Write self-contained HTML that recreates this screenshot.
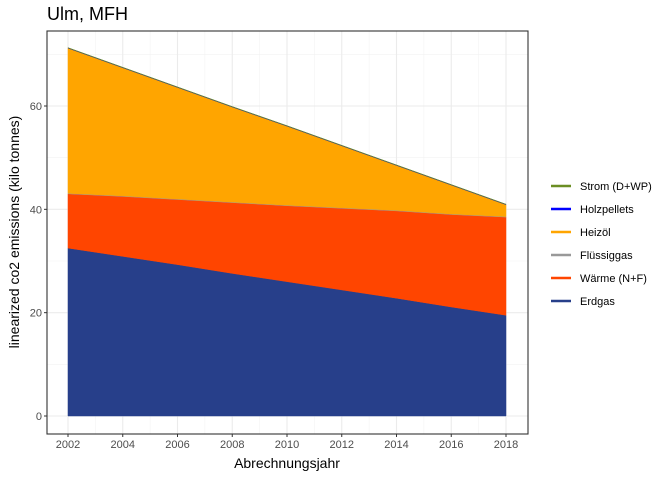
<!DOCTYPE html>
<html><head><meta charset="utf-8"><style>
body{margin:0;background:#fff;font-family:"Liberation Sans",sans-serif}
</style></head><body>
<svg id="c" width="672" height="480" xmlns="http://www.w3.org/2000/svg" font-family="Liberation Sans, sans-serif"></svg>
<script>
const years=[2002,2004,2006,2008,2010,2012,2014,2016,2018];
const erdgas=[32.5,30.9,29.3,27.6,26.0,24.4,22.8,21.1,19.5];
const waerme=[10.5,11.6,12.6,13.7,14.7,15.8,16.9,17.9,19.0];
const fluessiggas=[0.1,0.1,0.1,0.1,0.1,0.1,0.1,0.1,0.1];
const heizoel=[28.1,24.8,21.6,18.4,15.3,12.0,8.7,5.6,2.3];
const holzpellets=[0.05,0.05,0.05,0.05,0.05,0.05,0.05,0.05,0.05];
const strom=[0.05,0.05,0.05,0.05,0.05,0.05,0.05,0.05,0.05];
const xTicks=[2002,2004,2006,2008,2010,2012,2014,2016,2018];
const yTicks=[0,20,40,60];
const seriesNames=["Erdgas","Wärme (N+F)","Flüssiggas","Heizöl","Holzpellets","Strom (D+WP)"];
const seriesColors=["#273f8a","#ff4500","#999999","#ffa500","#0000ff","#6b8e23"];
const seriesData=[erdgas,waerme,fluessiggas,heizoel,holzpellets,strom];

const svg=document.getElementById('c');
const NS="http://www.w3.org/2000/svg";
const L=47,R=528,T=31,B=434;
const x=v=>68+(v-2002)*(506-68)/16;
const y=v=>416-v*(416-106)/60;
function mk(tag,attrs,parent){const e=document.createElementNS(NS,tag);for(const k in attrs)e.setAttribute(k,attrs[k]);(parent||svg).appendChild(e);return e;}

const grid=mk('g',{});


for(let v=10;v<=70;v+=20)mk('line',{x1:L,x2:R,y1:y(v),y2:y(v),stroke:'#f2f2f2','stroke-width':0.6},grid);
for(let yr=2003;yr<=2017;yr+=2)mk('line',{x1:x(yr),x2:x(yr),y1:T,y2:B,stroke:'#f2f2f2','stroke-width':0.6},grid);
yTicks.forEach(v=>mk('line',{x1:L,x2:R,y1:y(v),y2:y(v),stroke:'#ebebeb','stroke-width':1.1},grid));
xTicks.forEach(v=>mk('line',{x1:x(v),x2:x(v),y1:T,y2:B,stroke:'#ebebeb','stroke-width':1.1},grid));

let base=years.map(()=>0);
seriesData.forEach((d,i)=>{
  const top=base.map((b,j)=>b+d[j]);
  let pts=years.map((yr,j)=>x(yr)+','+y(top[j]));
  pts=pts.concat(years.slice().reverse().map((yr,j)=>x(yr)+','+y(base[years.length-1-j])));
  const p=mk('polygon',{points:pts.join(' '),fill:seriesColors[i],stroke:seriesColors[i],'stroke-width':0.5});
  
  
  base=top;
});

mk('rect',{x:L,y:T,width:R-L,height:B-T,fill:'none',stroke:'#333','stroke-width':1.1});

xTicks.forEach(v=>{
  mk('line',{x1:x(v),x2:x(v),y1:B,y2:B+3,stroke:'#333'});
  const t=mk('text',{x:x(v),y:B+14,'font-size':11,fill:'#4d4d4d','text-anchor':'middle'});
  t.textContent=v;
  
  
});
yTicks.forEach(v=>{
  mk('line',{x1:L-3,x2:L,y1:y(v),y2:y(v),stroke:'#333'});
  const t=mk('text',{x:L-5,y:y(v)+4,'font-size':11,fill:'#4d4d4d','text-anchor':'end'});
  t.textContent=v;
  
  
});

let t=mk('text',{x:287,y:468,'font-size':14,'text-anchor':'middle'});t.textContent='Abrechnungsjahr';


t=mk('text',{x:0,y:0,'font-size':14,'text-anchor':'middle',transform:'translate(19,232) rotate(-90)'});t.textContent='linearized co2 emissions (kilo tonnes)';


t=mk('text',{x:47,y:20,'font-size':18});t.textContent='Ulm, MFH';



const legendOrder=[5,4,3,2,1,0];
legendOrder.forEach((si,k)=>{
  const ly=186+k*23;
  const g=mk('g',{});
  
  
  mk('line',{x1:551,x2:571,y1:ly,y2:ly,stroke:seriesColors[si],'stroke-width':2.5},g);
  const tt=mk('text',{x:580,y:ly+4,'font-size':11,fill:'#000'},g);
  tt.textContent=seriesNames[si];
});
</script>
</body></html>
